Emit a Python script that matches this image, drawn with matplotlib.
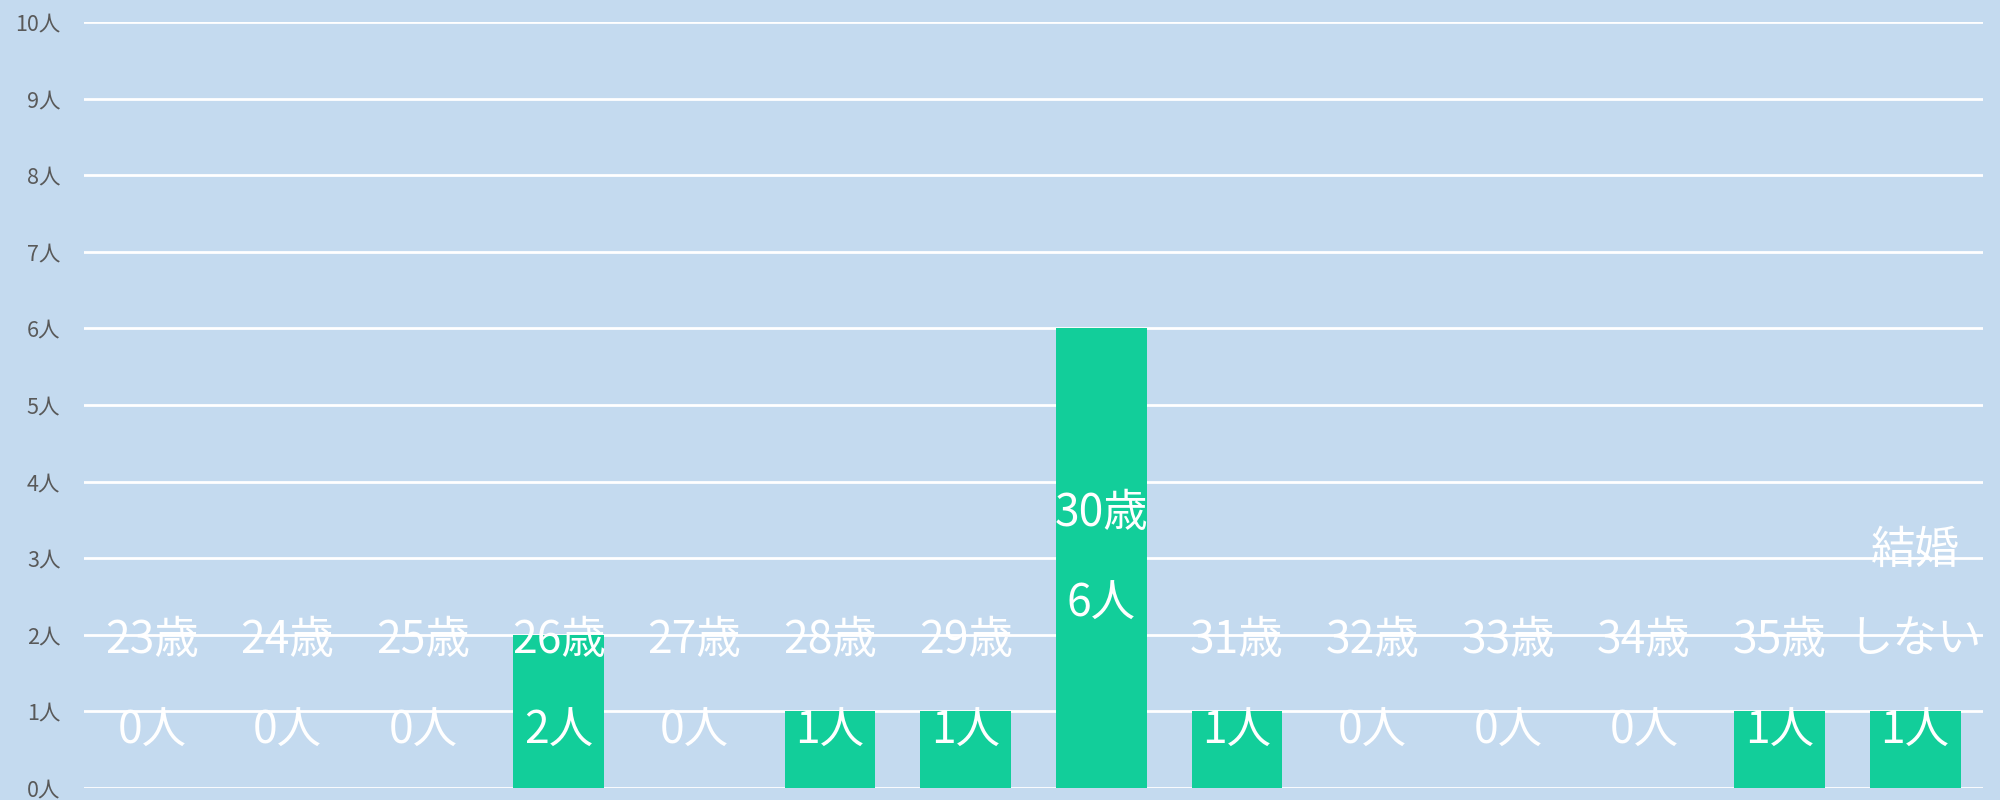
import matplotlib.pyplot as plt

plt.rcParams['font.family'] = ['Noto Sans CJK JP', 'DejaVu Sans']

# data
ages = ["23歳", "24歳", "25歳", "26歳", "27歳", "28歳", "29歳",
        "30歳", "31歳", "32歳", "33歳", "34歳", "35歳", "結婚\nしない"]
counts = [0, 0, 0, 2, 0, 1, 1, 6, 1, 0, 0, 0, 1, 1]
yticks = list(range(0, 11))
ytick_labels = ["{}人".format(t) for t in yticks]

bg = "#c4daef"
barColor = "#12ce9a"

fig = plt.figure(figsize=(20, 8), dpi=100)
fig.patch.set_facecolor(bg)
ax = fig.add_axes([0.042, 0.015, 0.9495, 0.9575])
ax.set_facecolor(bg)

xs = list(range(len(ages)))
ax.bar(xs, counts, width=0.67, color=barColor, zorder=2)

ax.set_xlim(-0.5, len(ages) - 0.5)
ax.set_ylim(0, 10)
ax.set_yticks(yticks)
ax.set_yticklabels(ytick_labels, fontsize=15.5, color="#595959")
ax.tick_params(axis="y", length=0, pad=17)
ax.set_xticks([])
ax.grid(axis="y", color="white", linewidth=2, zorder=1)
for s in ax.spines.values():
    s.set_visible(False)

# labels: category lines over count line, centred on bar, kept above the axis
step = 1.18
for x, name, v in zip(xs, ages, counts):
    lines = name.split("\n") + ["{}人".format(v)]
    n = len(lines)
    centre = max(v / 2.0, 0.75 + (n - 1) * step / 2)
    bottom = centre - (n - 1) * step / 2
    for i, txt in enumerate(reversed(lines)):
        ax.text(x, bottom + i * step, txt, ha="center", va="center",
                fontsize=32, color="white", zorder=3)

fig.savefig("out.png", dpi=100, facecolor=bg)
